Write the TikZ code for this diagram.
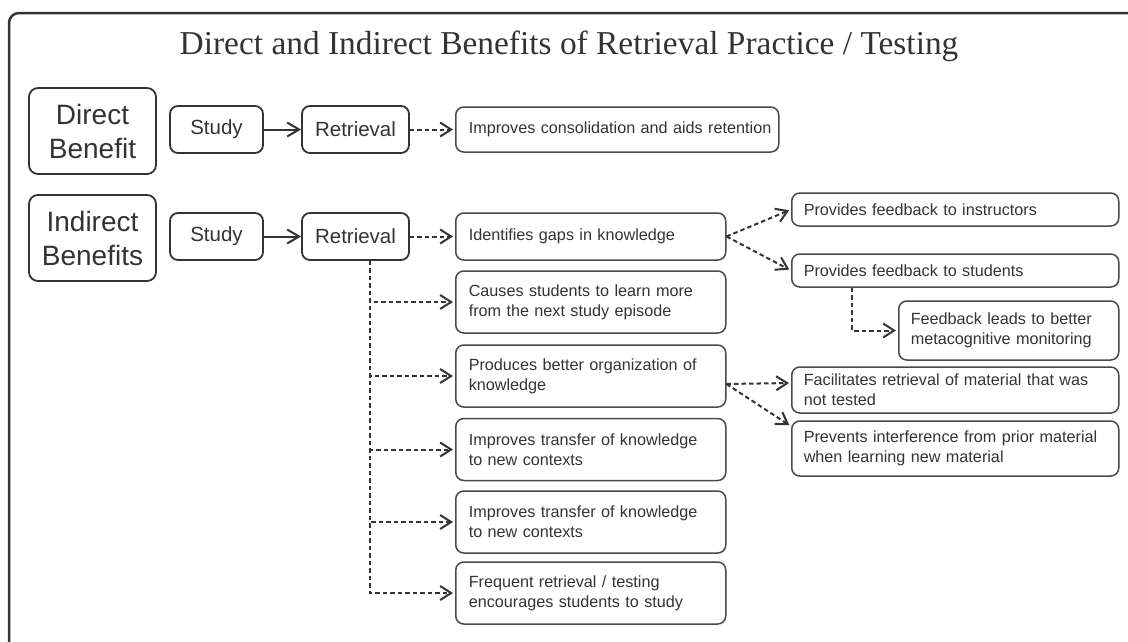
\documentclass[tikz,border=0pt]{standalone}
\usepackage{fontspec}
\setmainfont{Liberation Serif}
\setsansfont{Liberation Sans}
\usetikzlibrary{arrows.meta}

\definecolor{ink}{HTML}{333333}
\definecolor{edge}{HTML}{4A4A4A}

\tikzset{
  labelbox/.style={draw=ink, line width=1.8pt, rounded corners=9pt, align=center,
    minimum width=127pt, minimum height=86pt, font=\sffamily\fontsize{28}{34}\selectfont, text=ink},
  stepbox/.style={draw=ink, line width=1.8pt, rounded corners=8pt,
    minimum width=#1, minimum height=47pt, font=\sffamily\fontsize{20.5}{24}\selectfont, text=ink},
  infobox/.style={draw=edge, line width=1.5pt, rounded corners=8pt, anchor=west, align=left,
    inner xsep=13pt, inner ysep=0pt, text width=#1, font=\sffamily\fontsize{16.2}{20}\selectfont, text=ink},
  solidarr/.style={draw=ink, line width=2pt, -{Straight Barb[length=12pt,width=14pt,line width=2pt]}},
  dasharr/.style={draw=ink, line width=2pt, dash pattern=on 4.5pt off 3pt,
    -{Straight Barb[length=11pt,width=14pt,line width=2pt]}, shorten >=2pt}
}

\begin{document}
\begin{tikzpicture}[x=1pt,y=-1pt]
\useasboundingbox (0,0) rectangle (1128,641);
\draw[ink, line width=2.5pt, rounded corners=10pt] (9,660) -- (9,13) -- (1140,13);

\node[text=ink, font=\fontsize{33.4}{40}\selectfont] (title) at (569,46) {Direct and Indirect Benefits of Retrieval Practice / Testing};

\node[labelbox] (direct) at (92.5,131) {Direct\\Benefit};
\node[labelbox] (indirect) at (92.5,238) {Indirect\\Benefits};

\node[stepbox=93pt] (study1) at (216.5,129.5) {Study};
\node[stepbox=107pt] (retr1) at (355.5,129.5) {Retrieval};
\node[stepbox=93pt] (study2) at (216.5,236.5) {Study};
\node[stepbox=107pt] (retr2) at (355.5,236.5) {Retrieval};

\node[infobox=297pt, minimum height=45pt] (cons) at (455,129.5) {\mbox{Improves consolidation and aids retention}};

\node[infobox=244pt, minimum height=47pt] (gaps) at (455,236.5) {Identifies gaps in knowledge};
\node[infobox=244pt, minimum height=62pt] (learn) at (455,302) {Causes students to learn more\\from the next study episode};
\node[infobox=244pt, minimum height=62pt] (organ) at (455,376) {Produces better organization of\\knowledge};
\node[infobox=244pt, minimum height=62pt] (trans1) at (455,449.5) {Improves transfer of knowledge\\to new contexts};
\node[infobox=244pt, minimum height=62pt] (trans2) at (455,522) {Improves transfer of knowledge\\to new contexts};
\node[infobox=244pt, minimum height=62pt] (freq) at (455,593) {Frequent retrieval / testing\\encourages students to study};

\node[infobox=303pt, inner xsep=12pt, minimum height=33pt] (instr) at (791,209.5) {Provides feedback to instructors};
\node[infobox=303pt, inner xsep=12pt, minimum height=33pt] (stud) at (791,270.5) {Provides feedback to students};
\node[infobox=196pt, inner xsep=12pt, minimum height=59pt] (monit) at (898,330.5) {Feedback leads to better\\metacognitive monitoring};
\node[infobox=303pt, inner xsep=12pt, minimum height=46pt] (facil) at (791,390) {Facilitates retrieval of material that was\\not tested};
\node[infobox=303pt, inner xsep=12pt, minimum height=55pt] (prevent) at (791,448.5) {Prevents interference from prior material\\when learning new material};

\draw[solidarr] (study1.east) -- (retr1.west);
\draw[solidarr] (study2.east) -- (retr2.west);
\draw[dasharr] (retr1.east) -- (cons.west);
\draw[dasharr] (retr2.east) -- (gaps.west);
\foreach \n in {learn,organ,trans1,trans2,freq}
  \draw[dasharr] ([xshift=14.5pt]retr2.south) |- (\n.west);

\draw[dasharr] (gaps.east) -- (instr.west);
\draw[dasharr] (gaps.east) -- (stud.west);
\draw[dasharr] ([xshift=61pt]stud.south west) |- (monit.west);
\draw[dasharr] ([yshift=-8pt]organ.east) -- ([yshift=7pt]facil.west);
\draw[dasharr] ([yshift=-8pt]organ.east) -- ([yshift=-6pt]prevent.north west);
\end{tikzpicture}
\end{document}
